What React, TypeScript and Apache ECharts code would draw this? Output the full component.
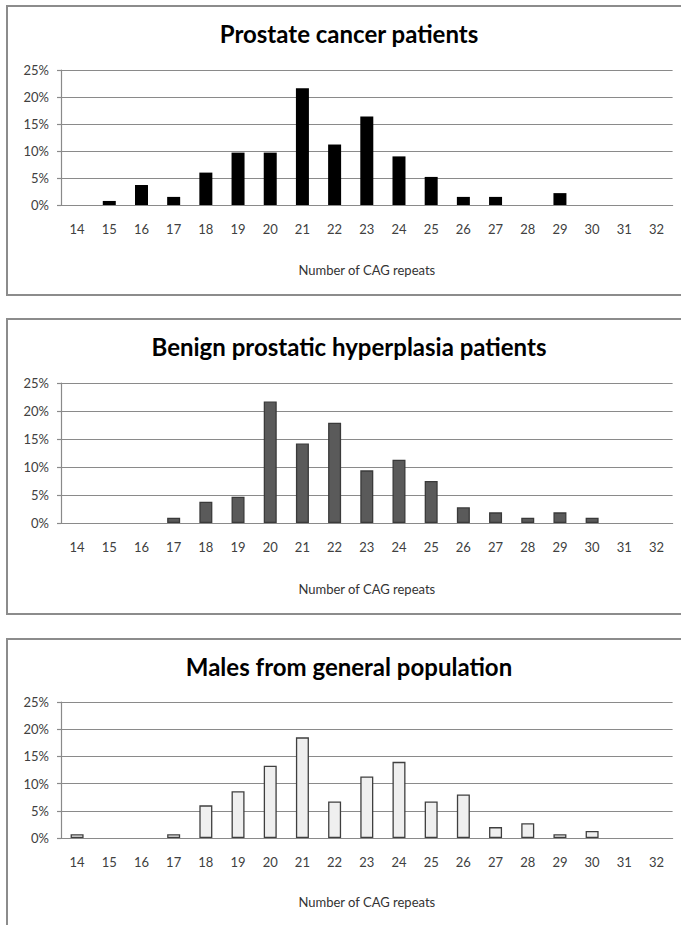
import React, { useEffect, useRef } from "react";
import * as echarts from "echarts";

const categories = ["14","15","16","17","18","19","20","21","22","23","24","25","26","27","28","29","30","31","32"];
const titles = ["Prostate cancer patients", "Benign prostatic hyperplasia patients", "Males from general population"];
const prostateCancer = [0, 0.75, 3.7, 1.5, 6.0, 9.7, 9.7, 21.6, 11.2, 16.4, 9.0, 5.2, 1.5, 1.5, 0, 2.2, 0, 0, 0];
const bph = [0, 0, 0, 0.94, 3.8, 4.7, 21.7, 14.2, 17.9, 9.4, 11.3, 7.5, 2.8, 1.9, 0.94, 1.9, 0.94, 0, 0];
const generalPop = [0.7, 0, 0, 0.7, 6.0, 8.6, 13.3, 18.5, 6.7, 11.3, 14.0, 6.7, 8.0, 2.0, 2.7, 0.7, 1.3, 0, 0];
const yTicks = [0, 5, 10, 15, 20, 25];
const xAxisName = "Number of CAG repeats";

const FONT = "Lato, 'Open Sans', sans-serif";

export default function App() {
  const ref = useRef<HTMLDivElement>(null);
  useEffect(() => {
    if (!ref.current) return;
    const chart = echarts.init(ref.current, null, { renderer: "svg" });
    const panels = [
      { top: 70, height: 135, titleY: 35, nameGap: 58, boxTop: 6, boxBottom: 295, data: prostateCancer, fill: "#000000", border: "#000000" },
      { top: 383, height: 140, titleY: 348, nameGap: 59, boxTop: 319, boxBottom: 614, data: bph, fill: "#5a5a5a", border: "#3a3a3a" },
      { top: 702, height: 136, titleY: 668, nameGap: 57, boxTop: 639, boxBottom: 960, data: generalPop, fill: "#efefef", border: "#3f3f3f" },
    ];
    const option: any = {
      animation: false,
      backgroundColor: "#ffffff",
      title: panels.map((p, i) => ({
        text: titles[i],
        left: 349,
        top: p.titleY - 14,
        textAlign: "center",
        padding: 0,
        textStyle: { fontFamily: FONT, fontWeight: "bold", fontSize: 24, color: "#000000" },
      })),
      graphic: panels.map((p) => ({
        type: "rect",
        shape: { x: 7, y: p.boxTop, width: 720, height: p.boxBottom - p.boxTop },
        style: { fill: "none", stroke: "#8c8c8c", lineWidth: 2 },
        z: -1,
      })),
      grid: panels.map((p) => ({ left: 61, right: 8.4, top: p.top, height: p.height })),
      xAxis: panels.map((p, i) => ({
        type: "category",
        gridIndex: i,
        data: categories,
        name: xAxisName,
        nameLocation: "middle",
        nameGap: p.nameGap,
        nameTextStyle: { fontFamily: FONT, fontSize: 13, color: "#333333" },
        axisLine: { show: true, lineStyle: { color: "#8a8a8a", width: 1.2 } },
        axisTick: { show: false },
        axisLabel: { margin: 17, fontFamily: FONT, fontSize: 13, color: "#404040", interval: 0 },
        splitLine: { show: false },
      })),
      yAxis: panels.map((p, i) => ({
        type: "value",
        gridIndex: i,
        min: yTicks[0],
        max: yTicks[yTicks.length - 1],
        interval: 5,
        axisLine: { show: true, lineStyle: { color: "#8a8a8a", width: 1.2 } },
        axisTick: { show: true, length: 4, lineStyle: { color: "#8a8a8a", width: 1.2 } },
        axisLabel: { margin: 12, fontFamily: FONT, fontSize: 13, color: "#404040", formatter: "{value}%" },
        splitLine: { show: true, lineStyle: { color: "#8a8a8a", width: 1.2 } },
      })),
      series: panels.map((p, i) => ({
        type: "bar",
        xAxisIndex: i,
        yAxisIndex: i,
        data: p.data.map((v) => (v === 0 ? "-" : v)),
        barWidth: 13,
        itemStyle: { color: p.fill, borderColor: p.border, borderWidth: i === 0 ? 0 : 1.3 },
      })),
    };
    chart.setOption(option);
    return () => chart.dispose();
  }, []);
  return (
    <div
      ref={ref}
      style={{ position: "absolute", left: 0, top: 0, width: 681, height: 925, background: "#fff" }}
    />
  );
}
